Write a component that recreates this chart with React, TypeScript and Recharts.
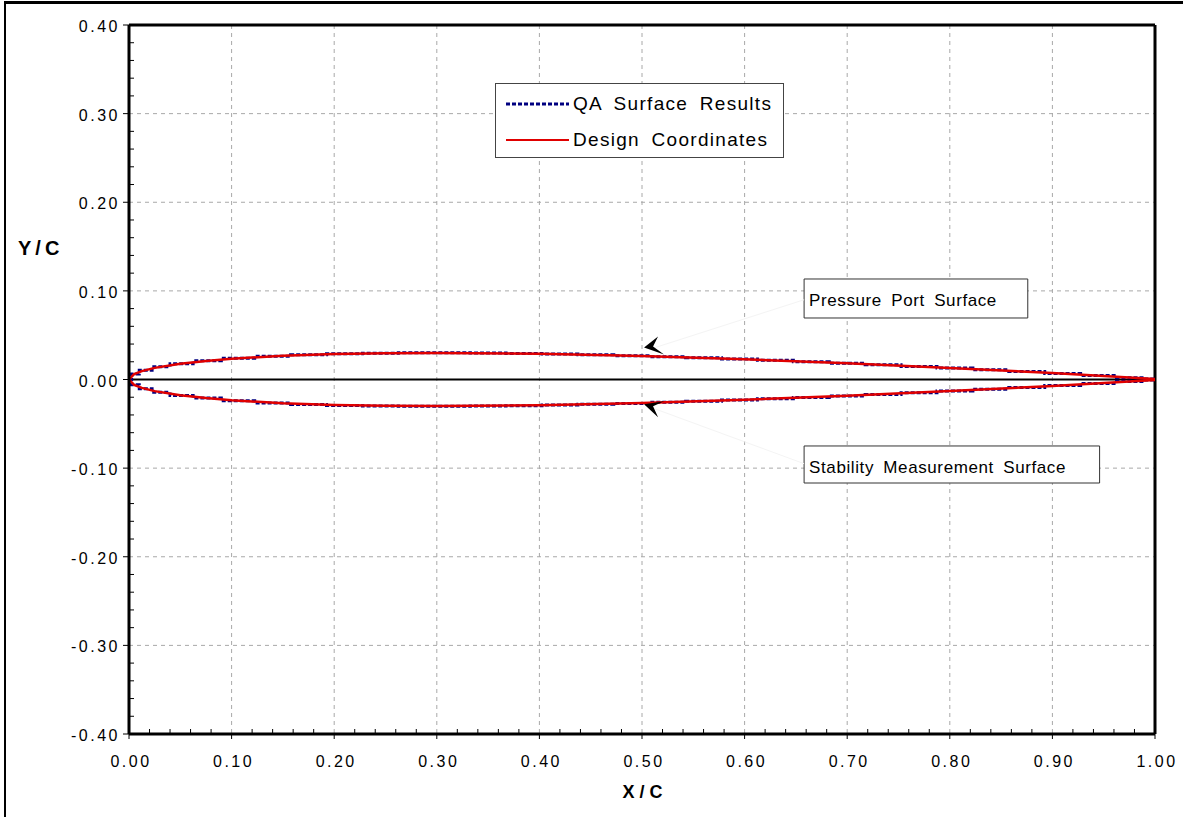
import React from 'react';
import {
  LineChart,
  Line,
  XAxis,
  YAxis,
  CartesianGrid,
  ReferenceLine,
  ReferenceArea,
  ReferenceDot,
  Legend,
} from 'recharts';

// chordwise stations for the measured (QA) surface
const qaX = [
  0, 0.005, 0.015, 0.03, 0.05, 0.075, 0.105, 0.14, 0.175, 0.21, 0.245, 0.28, 0.315, 0.35, 0.385, 0.42, 0.455,
  0.49, 0.525, 0.56, 0.595, 0.63, 0.665, 0.7, 0.735, 0.77, 0.805, 0.84, 0.875, 0.91, 0.945, 0.98, 1.0,
];
const qaUpper = [
  0, 0.0062, 0.0104, 0.0143, 0.0179, 0.0211, 0.0239, 0.0263, 0.028, 0.0291, 0.0297, 0.0301, 0.0301, 0.0298,
  0.0294, 0.0287, 0.0279, 0.0269, 0.0257, 0.0245, 0.0231, 0.0216, 0.0201, 0.0184, 0.0167, 0.0148, 0.0129,
  0.0109, 0.0089, 0.0067, 0.0045, 0.0021, 0.0007,
];
const qaLower = [
  0, -0.006, -0.0103, -0.0144, -0.018, -0.021, -0.024, -0.0264, -0.0281, -0.0292, -0.0298, -0.0302, -0.0302,
  -0.0299, -0.0295, -0.0288, -0.028, -0.027, -0.0258, -0.0246, -0.0232, -0.0217, -0.0202, -0.0185, -0.0168,
  -0.0149, -0.013, -0.011, -0.009, -0.0068, -0.0046, -0.0022, -0.0007,
];

// design coordinates, trailing edge -> leading edge
const designX = [1.0, 0.95, 0.9, 0.8, 0.7, 0.6, 0.5, 0.4, 0.3, 0.25, 0.2, 0.15, 0.1, 0.075, 0.05, 0.025, 0.0125, 0.005, 0];
const designUpper = [
  0.0006, 0.004, 0.0072, 0.0131, 0.0183, 0.0228, 0.0265, 0.029, 0.03, 0.0297, 0.0287, 0.0267, 0.0234, 0.021,
  0.0178, 0.0131, 0.0095, 0.0061, 0,
];
const designLower = [
  -0.0006, -0.004, -0.0072, -0.0131, -0.0183, -0.0228, -0.0265, -0.029, -0.03, -0.0297, -0.0287, -0.0267,
  -0.0234, -0.021, -0.0178, -0.0131, -0.0095, -0.0061, 0,
];

const xMajor = [0, 0.1, 0.2, 0.3, 0.4, 0.5, 0.6, 0.7, 0.8, 0.9, 1.0];
const yMajor = [-0.4, -0.3, -0.2, -0.1, 0, 0.1, 0.2, 0.3, 0.4];

const legendItems = [
  { name: 'QA Surface Results', color: '#000080', dash: '4 2', width: 3 },
  { name: 'Design Coordinates', color: '#e00000', dash: undefined, width: 2 },
];

// upper surface goes LE -> TE, lower surface too
const qaUpperPts = qaX.map((x, i) => ({ x, y: qaUpper[i] }));
const qaLowerPts = qaX.map((x, i) => ({ x, y: qaLower[i] }));
// closed outline: TE -> LE along the top, then back to TE along the bottom
const designPts = [
  ...designX.map((x, i) => ({ x, y: designUpper[i] })),
  ...designX
    .map((x, i) => ({ x, y: designLower[i] }))
    .reverse()
    .slice(1),
];

// four minor ticks between each pair of major ticks
const withMinor = (majors: number[]) =>
  majors.flatMap((v, i) =>
    i === 0 ? [v] : [1, 2, 3, 4, 5].map((k) => +(majors[i - 1] + ((v - majors[i - 1]) * k) / 5).toFixed(3))
  );
const isMajor = (v: number) => Math.abs(v * 10 - Math.round(v * 10)) < 1e-6;

const FONT = '"Liberation Sans", Arial, Helvetica, sans-serif';

const XTick = (props: any) => {
  const { x, y, payload } = props;
  const v = payload.value as number;
  if (!isMajor(v)) return <line x1={x} x2={x} y1={y} y2={y - 5} stroke="#000" strokeWidth={1} />;
  return (
    <g>
      <line x1={x} x2={x} y1={y} y2={y + 5} stroke="#000" strokeWidth={1} />
      <text x={x + 2} y={y + 33} textAnchor="middle" fontSize={16} letterSpacing={2.5} fontFamily={FONT} fill="#000">
        {v.toFixed(2)}
      </text>
    </g>
  );
};

const YTick = (props: any) => {
  const { x, y, payload } = props;
  const v = payload.value as number;
  if (!isMajor(v)) return <line x1={x} x2={x + 5} y1={y} y2={y} stroke="#000" strokeWidth={1} />;
  return (
    <g>
      <line x1={x - 6} x2={x} y1={y} y2={y} stroke="#000" strokeWidth={1} />
      <text x={x - 9} y={y + 7} textAnchor="end" fontSize={16} letterSpacing={2.5} fontFamily={FONT} fill="#000">
        {v.toFixed(2)}
      </text>
    </g>
  );
};

const boxLabel = (text: string) => (props: any) => {
  const { viewBox } = props;
  return (
    <text
      x={viewBox.x + 5}
      y={viewBox.y + 27}
      fontSize={17}
      letterSpacing={0.6}
      wordSpacing={4}
      fontFamily={FONT}
      fill="#000"
    >
      {text}
    </text>
  );
};

// filled arrowhead, tip at (cx, cy)
const upperArrow = (props: any) => {
  const { cx, cy } = props;
  return (
    <polygon
      points={`${cx},${cy} ${cx + 14},${cy - 11} ${cx + 9},${cy - 1} ${cx + 20},${cy + 7}`}
      fill="#000"
    />
  );
};
const lowerArrow = (props: any) => {
  const { cx, cy } = props;
  return (
    <polygon
      points={`${cx},${cy} ${cx + 20},${cy - 3} ${cx + 9},${cy + 2} ${cx + 14},${cy + 13}`}
      fill="#000"
    />
  );
};

const renderLegend = () => (
  <div
    style={{
      width: 289,
      height: 75,
      border: '1px solid #444',
      background: '#fff',
      boxSizing: 'border-box',
      fontFamily: FONT,
      fontSize: 19,
      letterSpacing: 1.3,
      wordSpacing: 5,
      paddingTop: 2,
    }}
  >
    {legendItems.map((it) => (
      <div key={it.name} style={{ display: 'flex', alignItems: 'center', height: 36 }}>
        <svg width={77} height={10} style={{ flex: 'none' }}>
          <line x1={10} x2={73} y1={5} y2={5} stroke={it.color} strokeWidth={it.width} strokeDasharray={it.dash} />
        </svg>
        <span>{it.name}</span>
      </div>
    ))}
  </div>
);

export default function App() {
  return (
    <div style={{ position: 'absolute', left: 0, top: 0, width: 1183, height: 817, background: '#fff' }}>
      <div
        style={{
          position: 'absolute',
          left: 4,
          top: 1,
          width: 1179,
          height: 816,
          borderLeft: '2px solid #000',
          borderTop: '3px solid #000',
          boxSizing: 'border-box',
          pointerEvents: 'none',
        }}
      />
      <LineChart width={1183} height={817} margin={{ top: 25, right: 28, bottom: 43, left: 69 }}>
        <CartesianGrid
          stroke="#a8a8a8"
          strokeDasharray="4 4"
          verticalValues={xMajor}
          horizontalValues={yMajor}
        />
        <XAxis
          type="number"
          dataKey="x"
          domain={[0, 1]}
          ticks={withMinor(xMajor)}
          interval={0}
          allowDataOverflow
          height={40}
          tickSize={0}
          tickMargin={0}
          tickLine={false}
          tick={<XTick />}
          axisLine={{ stroke: '#000', strokeWidth: 3 }}
          label={(p: any) => (
            <text
              x={p.viewBox.x + p.viewBox.width / 2 + 3}
              y={p.viewBox.y + 64}
              textAnchor="middle"
              fontSize={18}
              fontWeight="bold"
              letterSpacing={5}
              fontFamily={FONT}
              fill="#000"
            >
              X/C
            </text>
          )}
        />
        <YAxis
          type="number"
          domain={[-0.4, 0.4]}
          ticks={withMinor(yMajor)}
          interval={0}
          allowDataOverflow
          width={60}
          tickSize={0}
          tickMargin={0}
          tickLine={false}
          tick={<YTick />}
          axisLine={{ stroke: '#000', strokeWidth: 3 }}
          label={(p: any) => (
            <text
              x={18}
              y={p.viewBox.y + 230}
              fontSize={20}
              fontWeight="bold"
              letterSpacing={4}
              fontFamily={FONT}
              fill="#000"
            >
              Y/C
            </text>
          )}
        />
        <ReferenceLine y={0.4} stroke="#000" strokeWidth={3} />
        <ReferenceLine x={1} stroke="#000" strokeWidth={3} />
        <ReferenceLine y={0} stroke="#000" strokeWidth={2} />
        <ReferenceLine
          segment={[
            { x: 0.51, y: 0.035 },
            { x: 0.658, y: 0.09 },
          ]}
          stroke="#f4f4f4"
          strokeWidth={1}
        />
        <ReferenceLine
          segment={[
            { x: 0.51, y: -0.032 },
            { x: 0.658, y: -0.095 },
          ]}
          stroke="#f4f4f4"
          strokeWidth={1}
        />
        <ReferenceArea
          x1={0.658}
          x2={0.876}
          y1={0.0694}
          y2={0.1134}
          fill="#fff"
          fillOpacity={1}
          stroke="#333"
          strokeWidth={1}
          label={boxLabel('Pressure Port Surface')}
        />
        <ReferenceArea
          x1={0.658}
          x2={0.946}
          y1={-0.1168}
          y2={-0.075}
          fill="#fff"
          fillOpacity={1}
          stroke="#333"
          strokeWidth={1}
          label={boxLabel('Stability Measurement Surface')}
        />
        <Line
          data={qaUpperPts}
          dataKey="y"
          type="step"
          stroke="#000080"
          strokeWidth={3}
          strokeDasharray="4 2"
          dot={false}
          isAnimationActive={false}
        />
        <Line
          data={qaLowerPts}
          dataKey="y"
          type="step"
          stroke="#000080"
          strokeWidth={3}
          strokeDasharray="4 2"
          dot={false}
          isAnimationActive={false}
        />
        <Line
          data={designPts}
          dataKey="y"
          type="linear"
          stroke="#e00000"
          strokeWidth={2.5}
          dot={false}
          isAnimationActive={false}
        />
        <ReferenceDot x={0.502} y={0.036} shape={upperArrow} />
        <ReferenceDot x={0.502} y={-0.028} shape={lowerArrow} />
        <Legend
          layout="vertical"
          align="center"
          verticalAlign="middle"
          content={renderLegend}
          wrapperStyle={{ top: 83, left: 495, width: 289, height: 75 }}
        />
      </LineChart>
    </div>
  );
}
